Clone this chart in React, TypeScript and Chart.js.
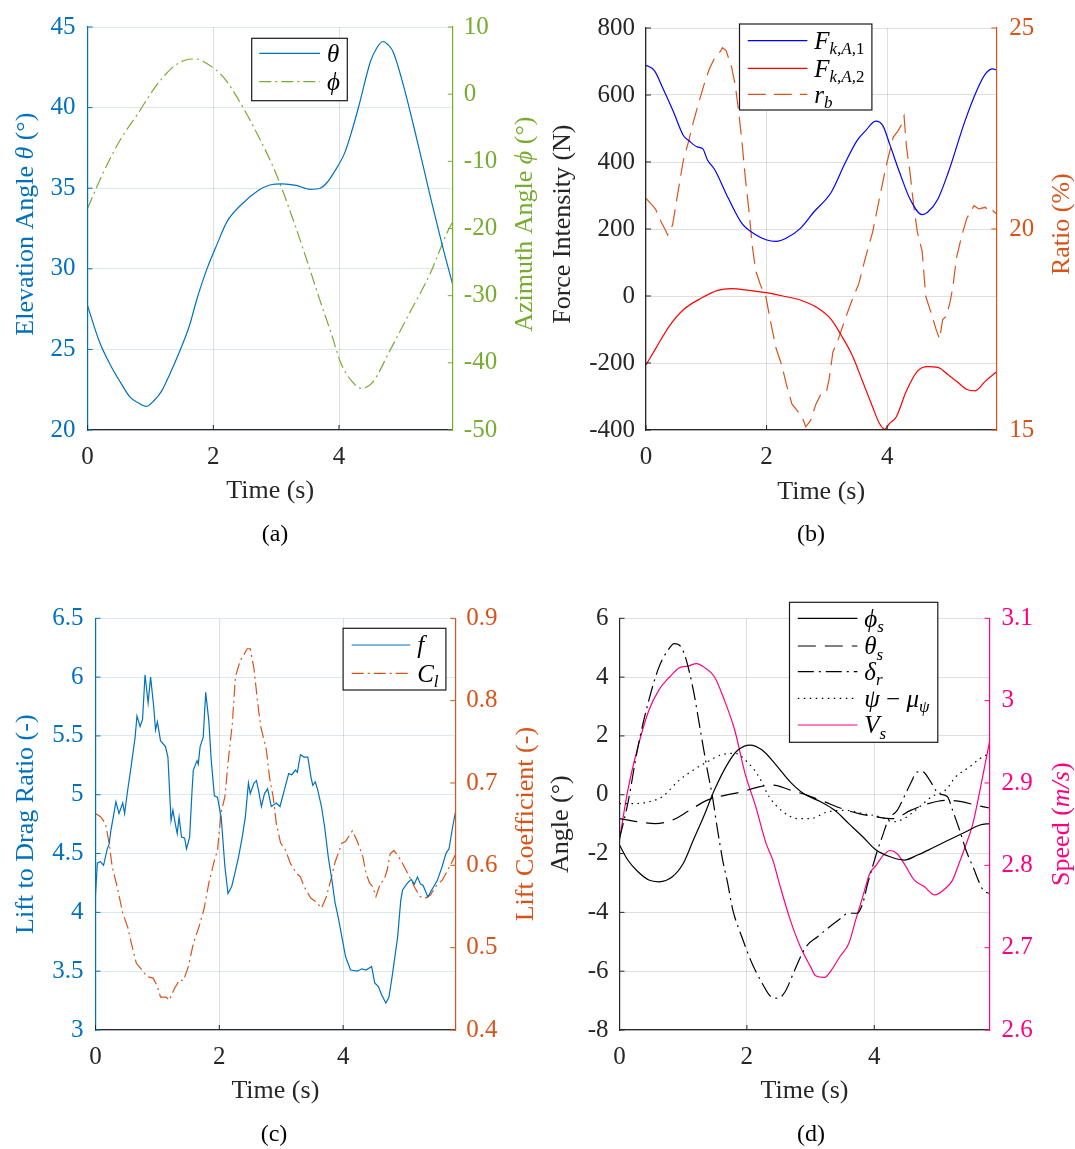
import React, { useEffect, useRef } from 'react';
import { Chart, registerables } from 'chart.js';
Chart.register(...registerables);

const SERIF = '"Liberation Serif", "DejaVu Serif", serif';
const AX = '#262626';
const BLUE = '#0072BD';
const GREEN = '#77AC30';
const ORANGE = '#D95319';
const PINK = '#FF0080';
const GRID_GRAY = 'rgba(38,38,38,0.15)';
const GRID_BLUE = 'rgba(0,114,189,0.15)';

// ---------- shared axis values ----------
const xTicks = [0, 2, 4];
const tMax = 5.81;

// ---------- (a) ----------
const aThetaT = [0, 0.19, 0.36, 0.5, 0.68, 0.8, 0.93, 1.05, 1.18, 1.3, 1.45, 1.62, 1.73, 1.89, 2.06, 2.22, 2.44, 2.72, 2.9, 3.1, 3.32, 3.54, 3.7, 3.82, 3.92, 4.09, 4.2, 4.31, 4.5, 4.6, 4.7, 4.78, 4.86, 5.02, 5.24, 5.46, 5.64, 5.81];
const aTheta = [27.7, 25.46, 24.05, 23.1, 22.02, 21.7, 21.46, 21.8, 22.43, 23.4, 24.75, 26.47, 28.0, 29.9, 31.53, 32.94, 33.96, 34.87, 35.2, 35.27, 35.17, 34.93, 35.0, 35.4, 35.98, 37.19, 38.5, 40.02, 42.86, 43.7, 44.1, 43.9, 43.46, 41.44, 38.0, 34.36, 31.5, 29.0];
const aPhiT = [0, 0.25, 0.52, 0.8, 1.07, 1.34, 1.56, 1.73, 1.89, 2.17, 2.44, 2.72, 2.99, 3.26, 3.54, 3.7, 3.87, 4.03, 4.2, 4.35, 4.53, 4.8, 5.07, 5.35, 5.46, 5.73, 5.81];
const aPhi = [-17.0, -11.66, -6.79, -2.9, 0.97, 3.88, 5.09, 5.24, 4.61, 2.42, -1.46, -6.31, -11.66, -18.44, -26.2, -30.8, -35.44, -40.05, -42.7, -43.8, -42.96, -38.35, -33.5, -28.6, -26.5, -20.4, -19.0];
const aLeftTicks = [20, 25, 30, 35, 40, 45];
const aRightTicks = [-50, -40, -30, -20, -10, 0, 10];

// ---------- (b) ----------
const bF1T = [0, 0.14, 0.28, 0.45, 0.62, 0.71, 0.85, 0.94, 1.02, 1.14, 1.37, 1.59, 1.82, 1.99, 2.16, 2.33, 2.56, 2.78, 3.07, 3.3, 3.5, 3.64, 3.81, 3.93, 4.04, 4.21, 4.38, 4.58, 4.67, 4.84, 5.01, 5.29, 5.49, 5.63, 5.75, 5.81];
const bF1 = [689, 673, 620, 552, 479, 464, 445, 440, 406, 377, 290, 217, 183, 168, 163, 173, 202, 250, 309, 396, 464, 493, 522, 508, 454, 367, 289, 243, 250, 289, 367, 522, 615, 663, 678, 675];
const bF2T = [0, 0.16, 0.39, 0.62, 0.91, 1.19, 1.42, 1.71, 1.99, 2.27, 2.56, 2.85, 3.07, 3.24, 3.42, 3.59, 3.76, 3.87, 3.96, 4.04, 4.15, 4.32, 4.5, 4.67, 4.84, 5.01, 5.18, 5.32, 5.46, 5.63, 5.81];
const bF2 = [-206, -157, -89, -41, -7, 17, 22, 17, 10, 0, -12, -36, -70, -118, -177, -254, -332, -380, -398, -380, -361, -283, -225, -211, -213, -235, -259, -279, -283, -254, -227];
const bRbT = [0, 0.11, 0.16, 0.25, 0.32, 0.36, 0.44, 0.53, 0.62, 0.71, 0.79, 0.88, 0.96, 1.05, 1.14, 1.22, 1.27, 1.33, 1.42, 1.48, 1.53, 1.59, 1.65, 1.71, 1.76, 1.82, 1.9, 1.99, 2.08, 2.16, 2.25, 2.33, 2.42, 2.53, 2.59, 2.65, 2.73, 2.82, 2.9, 2.99, 3.04, 3.1, 3.19, 3.3, 3.42, 3.53, 3.64, 3.76, 3.87, 3.98, 4.1, 4.18, 4.24, 4.28, 4.32, 4.38, 4.44, 4.5, 4.58, 4.64, 4.73, 4.81, 4.87, 4.92, 4.98, 5.04, 5.09, 5.15, 5.24, 5.32, 5.38, 5.44, 5.52, 5.63, 5.69, 5.75, 5.81];
const bRb = [20.76, 20.58, 20.49, 20.18, 19.98, 19.85, 20.1, 20.91, 21.72, 22.2, 22.69, 23.17, 23.58, 23.98, 24.26, 24.39, 24.51, 24.43, 24.02, 23.58, 23.01, 22.2, 21.23, 20.42, 19.61, 18.96, 18.6, 18.3, 17.59, 17.02, 16.62, 16.13, 15.65, 15.44, 15.32, 15.08, 15.24, 15.65, 15.89, 15.93, 16.29, 16.94, 17.26, 17.75, 18.24, 18.64, 19.29, 19.93, 20.75, 21.55, 22.28, 22.44, 22.6, 22.81, 22.04, 21.39, 20.58, 19.93, 19.45, 18.32, 17.91, 17.51, 17.26, 17.75, 17.83, 18.16, 18.56, 19.29, 19.85, 20.26, 20.42, 20.58, 20.5, 20.54, 20.42, 20.46, 20.38];
const bLeftTicks = [-400, -200, 0, 200, 400, 600, 800];
const bRightTicks = [15, 20, 25];

// ---------- (c) ----------
const cFT = [0, 0.03, 0.08, 0.13, 0.19, 0.22, 0.25, 0.33, 0.38, 0.44, 0.47, 0.52, 0.57, 0.64, 0.67, 0.72, 0.76, 0.8, 0.85, 0.89, 0.94, 0.97, 1.0, 1.05, 1.13, 1.17, 1.22, 1.25, 1.29, 1.32, 1.35, 1.39, 1.44, 1.47, 1.52, 1.56, 1.58, 1.64, 1.66, 1.69, 1.74, 1.78, 1.83, 1.87, 1.92, 1.97, 2.03, 2.09, 2.14, 2.2, 2.25, 2.31, 2.37, 2.42, 2.47, 2.5, 2.56, 2.6, 2.64, 2.68, 2.73, 2.78, 2.84, 2.92, 2.98, 3.05, 3.12, 3.17, 3.23, 3.26, 3.31, 3.37, 3.43, 3.48, 3.51, 3.55, 3.59, 3.65, 3.7, 3.76, 3.82, 3.87, 3.92, 3.98, 4.04, 4.12, 4.23, 4.3, 4.37, 4.46, 4.51, 4.57, 4.62, 4.69, 4.74, 4.79, 4.88, 4.93, 4.96, 5.04, 5.1, 5.15, 5.2, 5.25, 5.29, 5.37, 5.43, 5.52, 5.6, 5.66, 5.71, 5.77, 5.82];
const cF = [4.15, 4.42, 4.43, 4.4, 4.54, 4.58, 4.7, 4.94, 4.84, 4.93, 4.84, 5.04, 5.22, 5.49, 5.67, 5.58, 5.64, 6.02, 5.78, 6.0, 5.75, 5.55, 5.62, 5.46, 5.41, 5.32, 4.78, 4.87, 4.75, 4.67, 4.81, 4.64, 4.63, 4.54, 4.64, 5.04, 5.21, 5.29, 5.26, 5.41, 5.49, 5.87, 5.63, 5.29, 4.99, 4.98, 4.81, 4.39, 4.16, 4.22, 4.33, 4.47, 4.64, 4.81, 5.1, 5.01, 5.1, 5.12, 5.02, 4.9, 5.01, 5.05, 4.9, 4.93, 4.9, 5.04, 5.18, 5.17, 5.21, 5.19, 5.34, 5.32, 5.32, 5.15, 5.08, 5.11, 5.04, 4.9, 4.73, 4.47, 4.27, 4.08, 3.96, 3.79, 3.62, 3.51, 3.5, 3.52, 3.51, 3.54, 3.4, 3.37, 3.3, 3.23, 3.28, 3.45, 3.79, 4.1, 4.19, 4.25, 4.28, 4.24, 4.3, 4.24, 4.23, 4.13, 4.19, 4.27, 4.39, 4.5, 4.54, 4.73, 4.87];
const cClT = [0, 0.08, 0.16, 0.22, 0.27, 0.35, 0.44, 0.52, 0.58, 0.66, 0.75, 0.83, 0.93, 1.0, 1.05, 1.14, 1.19, 1.28, 1.36, 1.42, 1.5, 1.58, 1.67, 1.75, 1.83, 1.92, 1.97, 2.03, 2.09, 2.14, 2.21, 2.26, 2.34, 2.39, 2.45, 2.5, 2.56, 2.62, 2.67, 2.76, 2.81, 2.87, 2.92, 2.99, 3.06, 3.15, 3.25, 3.31, 3.37, 3.48, 3.56, 3.65, 3.73, 3.8, 3.87, 3.9, 3.98, 4.04, 4.09, 4.15, 4.23, 4.32, 4.37, 4.43, 4.48, 4.53, 4.6, 4.66, 4.71, 4.76, 4.82, 4.9, 4.99, 5.1, 5.15, 5.24, 5.32, 5.41, 5.49, 5.6, 5.69, 5.77, 5.82];
const cCl = [0.663, 0.659, 0.651, 0.627, 0.598, 0.574, 0.542, 0.525, 0.505, 0.481, 0.473, 0.465, 0.463, 0.453, 0.44, 0.44, 0.436, 0.451, 0.461, 0.46, 0.477, 0.505, 0.525, 0.546, 0.578, 0.606, 0.618, 0.665, 0.683, 0.724, 0.772, 0.829, 0.849, 0.855, 0.863, 0.863, 0.839, 0.797, 0.768, 0.74, 0.707, 0.683, 0.651, 0.627, 0.62, 0.602, 0.59, 0.586, 0.574, 0.56, 0.556, 0.548, 0.562, 0.582, 0.604, 0.61, 0.627, 0.629, 0.635, 0.642, 0.629, 0.61, 0.59, 0.578, 0.574, 0.562, 0.578, 0.582, 0.594, 0.614, 0.618, 0.61, 0.598, 0.582, 0.574, 0.562, 0.56, 0.564, 0.574, 0.582, 0.594, 0.606, 0.614];
const cLeftTicks = [3, 3.5, 4, 4.5, 5, 5.5, 6, 6.5];
const cRightTicks = [0.4, 0.5, 0.6, 0.7, 0.8, 0.9];

// ---------- (d) ----------
const dPhiT = [0, 0.13, 0.29, 0.46, 0.62, 0.83, 1.0, 1.16, 1.32, 1.49, 1.7, 1.86, 2.05, 2.24, 2.46, 2.68, 2.89, 3.16, 3.38, 3.6, 3.82, 4.03, 4.25, 4.47, 4.68, 4.9, 5.17, 5.44, 5.66, 5.81];
const dPhi = [-1.71, -2.22, -2.62, -2.9, -2.96, -2.79, -2.34, -1.54, -0.75, 0.16, 1.06, 1.52, 1.69, 1.52, 1.01, 0.44, 0.04, -0.24, -0.53, -0.98, -1.43, -1.88, -2.11, -2.22, -2.05, -1.83, -1.54, -1.26, -1.03, -0.98];
const dThetaT = [0, 0.29, 0.56, 0.83, 1.1, 1.37, 1.65, 1.92, 2.19, 2.41, 2.68, 2.95, 3.22, 3.49, 3.76, 4.03, 4.3, 4.57, 4.85, 5.12, 5.39, 5.6, 5.81];
const dTheta = [-0.81, -0.92, -0.98, -0.86, -0.53, -0.19, -0.02, 0.1, 0.27, 0.33, 0.16, -0.02, -0.24, -0.47, -0.64, -0.75, -0.81, -0.53, -0.3, -0.19, -0.24, -0.36, -0.45];
const dDeltaT = [0, 0.13, 0.29, 0.46, 0.62, 0.76, 0.86, 0.97, 1.05, 1.16, 1.27, 1.38, 1.46, 1.54, 1.62, 1.7, 1.78, 1.92, 2.08, 2.24, 2.38, 2.49, 2.6, 2.73, 2.87, 2.95, 3.11, 3.27, 3.44, 3.6, 3.73, 3.82, 3.9, 3.98, 4.05, 4.13, 4.22, 4.36, 4.47, 4.57, 4.68, 4.76, 4.87, 5.01, 5.15, 5.23, 5.34, 5.44, 5.55, 5.71, 5.81];
const dDelta = [-1.49, -0.3, 1.63, 3.21, 4.34, 4.91, 5.14, 5.02, 4.57, 3.55, 2.19, 0.83, -0.07, -1.2, -2.22, -3.02, -3.92, -4.83, -5.73, -6.41, -6.87, -6.92, -6.7, -6.07, -5.39, -5.11, -4.83, -4.54, -4.26, -4.03, -4.03, -3.69, -3.0, -2.4, -1.9, -1.4, -0.86, -0.53, -0.07, 0.38, 0.78, 0.78, 0.5, 0.04, -0.07, -0.53, -1.2, -1.88, -2.45, -3.24, -3.36];
const dPsiT = [0, 0.24, 0.46, 0.67, 0.94, 1.16, 1.38, 1.59, 1.81, 2.03, 2.19, 2.35, 2.57, 2.79, 3.0, 3.27, 3.54, 3.82, 4.09, 4.3, 4.47, 4.68, 4.9, 5.12, 5.28, 5.5, 5.66, 5.8];
const dPsi = [-0.3, -0.3, -0.24, -0.07, 0.5, 0.84, 1.12, 1.35, 1.41, 1.06, 0.61, -0.07, -0.58, -0.81, -0.81, -0.58, -0.53, -0.64, -0.75, -0.92, -0.81, -0.47, -0.07, 0.16, 0.61, 0.95, 1.23, 1.4];
const dVsT = [0, 0.13, 0.29, 0.46, 0.62, 0.79, 0.94, 1.08, 1.21, 1.32, 1.49, 1.65, 1.81, 1.97, 2.14, 2.3, 2.41, 2.51, 2.68, 2.84, 3.0, 3.08, 3.22, 3.33, 3.46, 3.6, 3.71, 3.82, 3.93, 4.03, 4.14, 4.25, 4.36, 4.47, 4.63, 4.79, 4.95, 5.09, 5.23, 5.33, 5.44, 5.55, 5.66, 5.81];
const dVs = [2.831, 2.891, 2.944, 2.988, 3.013, 3.029, 3.04, 3.042, 3.045, 3.041, 3.029, 3.0, 2.964, 2.912, 2.871, 2.827, 2.806, 2.778, 2.734, 2.701, 2.677, 2.666, 2.664, 2.673, 2.689, 2.705, 2.734, 2.762, 2.79, 2.8, 2.812, 2.818, 2.814, 2.802, 2.782, 2.774, 2.764, 2.77, 2.782, 2.802, 2.825, 2.851, 2.891, 2.95];
const dLeftTicks = [-8, -6, -4, -2, 0, 2, 4, 6];
const dRightTicks = [2.6, 2.7, 2.8, 2.9, 3.0, 3.1];

// ---------- types ----------
type Seg = { t: string; i?: boolean; s?: boolean };
type LineSpec = { name: Seg[]; t: number[]; v: number[]; color: string; dash: number[]; axis: 'yL' | 'yR'; smooth: boolean };
type AxisSpec = { min: number; max: number; ticks: number[]; color: string; grid: string | null; pad: number; title: Seg[]; titleX: number };
type PanelSpec = {
  key: string; ox: number; oy: number; w: number; h: number;
  L: number; R: number; T: number; B: number;
  yL: AxisSpec; yR: AxisSpec; lines: LineSpec[];
  legend: { x0: number; y0: number; x1: number; y1: number; lx0: number; lx1: number; tx: number; ys: number[] };
  caption: string; capX: number; capY: number; xTitleY: number;
};

const DASHDOT = [12, 4, 2, 4];
const TICK_SIZE = 25;
const TITLE_SIZE = 26;
const LEGEND_SIZE = 25;

const panels: PanelSpec[] = [
  {
    key: 'a', ox: 0, oy: 0, w: 545, h: 575, L: 87.6, R: 452.8, T: 18.3, B: 430,
    yL: { min: 20, max: 45, ticks: aLeftTicks, color: BLUE, grid: GRID_BLUE, pad: 12, title: [{ t: 'Elevation Angle ' }, { t: 'θ', i: true }, { t: ' (°)' }], titleX: 24 },
    yR: { min: -50, max: 10, ticks: aRightTicks, color: GREEN, grid: null, pad: 11, title: [{ t: 'Azimuth Angle ' }, { t: 'ϕ', i: true }, { t: ' (°)' }], titleX: 523 },
    lines: [
      { name: [{ t: 'θ', i: true }], t: aThetaT, v: aTheta, color: BLUE, dash: [], axis: 'yL', smooth: true },
      { name: [{ t: 'ϕ', i: true }], t: aPhiT, v: aPhi, color: GREEN, dash: DASHDOT, axis: 'yR', smooth: true },
    ],
    legend: { x0: 251.7, y0: 38.3, x1: 347.3, y1: 100.7, lx0: 259.3, lx1: 320, tx: 327, ys: [53.3, 81.7] },
    caption: '(a)', capX: 275, capY: 533, xTitleY: 489,
  },
  {
    key: 'b', ox: 545, oy: 0, w: 530, h: 575, L: 646, R: 996.3, T: 18.3, B: 430,
    yL: { min: -400, max: 800, ticks: bLeftTicks, color: AX, grid: GRID_GRAY, pad: 11, title: [{ t: 'Force Intensity (N)' }], titleX: 561 },
    yR: { min: 15, max: 25, ticks: bRightTicks, color: ORANGE, grid: null, pad: 13, title: [{ t: 'Ratio (%)' }], titleX: 1060 },
    lines: [
      { name: [{ t: 'F', i: true }, { t: 'k,A,', i: true, s: true }, { t: '1', s: true }], t: bF1T, v: bF1, color: '#0000FF', dash: [], axis: 'yL', smooth: true },
      { name: [{ t: 'F', i: true }, { t: 'k,A,', i: true, s: true }, { t: '2', s: true }], t: bF2T, v: bF2, color: '#FF0000', dash: [], axis: 'yL', smooth: true },
      { name: [{ t: 'r', i: true }, { t: 'b', i: true, s: true }], t: bRbT, v: bRb, color: ORANGE, dash: [18, 8], axis: 'yR', smooth: false },
    ],
    legend: { x0: 739.5, y0: 24, x1: 871.9, y1: 110, lx0: 747.8, lx1: 807.4, tx: 814.3, ys: [40.7, 68.3, 94.3] },
    caption: '(b)', capX: 811, capY: 533, xTitleY: 490,
  },
  {
    key: 'c', ox: 0, oy: 575, w: 545, h: 574, L: 95.5, R: 455.2, T: 618.3, B: 1030,
    yL: { min: 3, max: 6.5, ticks: cLeftTicks, color: BLUE, grid: GRID_BLUE, pad: 12, title: [{ t: 'Lift to Drag Ratio (-)' }], titleX: 24 },
    yR: { min: 0.4, max: 0.9, ticks: cRightTicks, color: ORANGE, grid: null, pad: 11, title: [{ t: 'Lift Coefficient (-)' }], titleX: 524 },
    lines: [
      { name: [{ t: 'f', i: true }], t: cFT, v: cF, color: BLUE, dash: [], axis: 'yL', smooth: false },
      { name: [{ t: 'C', i: true }, { t: 'l', i: true, s: true }], t: cClT, v: cCl, color: ORANGE, dash: DASHDOT, axis: 'yR', smooth: false },
    ],
    legend: { x0: 343.1, y0: 628.3, x1: 445.9, y1: 690, lx0: 351.7, lx1: 410.3, tx: 417.2, ys: [645, 673.3] },
    caption: '(c)', capX: 274, capY: 1133, xTitleY: 1089,
  },
  {
    key: 'd', ox: 545, oy: 575, w: 530, h: 574, L: 619.5, R: 989.5, T: 618.3, B: 1030,
    yL: { min: -8, max: 6, ticks: dLeftTicks, color: AX, grid: GRID_GRAY, pad: 11, title: [{ t: 'Angle (°)' }], titleX: 559 },
    yR: { min: 2.6, max: 3.1, ticks: dRightTicks, color: PINK, grid: null, pad: 12, title: [{ t: 'Speed (' }, { t: 'm/s', i: true }, { t: ')' }], titleX: 1060 },
    lines: [
      { name: [{ t: 'ϕ', i: true }, { t: 's', i: true, s: true }], t: dPhiT, v: dPhi, color: '#000000', dash: [], axis: 'yL', smooth: true },
      { name: [{ t: 'θ', i: true }, { t: 's', i: true, s: true }], t: dThetaT, v: dTheta, color: '#000000', dash: [18, 9], axis: 'yL', smooth: true },
      { name: [{ t: 'δ', i: true }, { t: 'r', i: true, s: true }], t: dDeltaT, v: dDelta, color: '#000000', dash: [16, 5, 2, 5], axis: 'yL', smooth: true },
      { name: [{ t: 'ψ', i: true }, { t: ' − ' }, { t: 'μ', i: true }, { t: 'ψ', i: true, s: true }], t: dPsiT, v: dPsi, color: '#000000', dash: [1.5, 4.5], axis: 'yL', smooth: true },
      { name: [{ t: 'V', i: true }, { t: 's', i: true, s: true }], t: dVsT, v: dVs, color: PINK, dash: [], axis: 'yR', smooth: true },
    ],
    legend: { x0: 789.5, y0: 602.3, x1: 937.8, y1: 742.3, lx0: 797.8, lx1: 857.4, tx: 864.3, ys: [618.3, 646, 671.7, 698.3, 725] },
    caption: '(d)', capX: 811, capY: 1133, xTitleY: 1089,
  },
];

// ---------- text helpers ----------
function segFont(g: Seg, size: number) {
  const sz = g.s ? Math.round(size * 0.68) : size;
  return `${g.i ? 'italic ' : ''}${sz}px ${SERIF}`;
}
function richWidth(ctx: CanvasRenderingContext2D, segs: Seg[], size: number) {
  let w = 0;
  for (const g of segs) { ctx.font = segFont(g, size); w += ctx.measureText(g.t).width; }
  return w;
}
function drawRich(ctx: CanvasRenderingContext2D, segs: Seg[], x: number, yMid: number, size: number, color: string, align: 'left' | 'center') {
  ctx.save();
  ctx.fillStyle = color;
  ctx.textBaseline = 'alphabetic';
  ctx.textAlign = 'left';
  const w = richWidth(ctx, segs, size);
  let cx = align === 'center' ? x - w / 2 : x;
  const base = yMid + size * 0.33;
  for (const g of segs) {
    ctx.font = segFont(g, size);
    ctx.fillText(g.t, cx, base + (g.s ? size * 0.22 : 0));
    cx += ctx.measureText(g.t).width;
  }
  ctx.restore();
}

const fmt = (v: any) => String(Math.round(Number(v) * 1000) / 1000);

const WL = 62, WR = 62, HX = 42;

function makeChart(canvas: HTMLCanvasElement, p: PanelSpec) {
  const datasets = p.lines.map((l) => ({
    type: 'line' as const,
    label: l.name.map((g) => g.t).join(''),
    data: l.t.map((x, i) => ({ x, y: l.v[i] })),
    borderColor: l.color,
    borderWidth: 1.2,
    borderDash: l.dash,
    pointRadius: 0,
    fill: false,
    yAxisID: l.axis,
    tension: 0,
    cubicInterpolationMode: (l.smooth ? 'monotone' : 'default') as any,
  }));

  const yScale = (a: AxisSpec, position: 'left' | 'right', width: number) => ({
    type: 'linear' as const,
    position,
    min: a.min,
    max: a.max,
    afterBuildTicks: (s: any) => { s.ticks = a.ticks.map((v) => ({ value: v })); },
    afterFit: (s: any) => { s.width = width; },
    grid: { display: a.grid !== null, color: a.grid || 'transparent', lineWidth: 1, drawTicks: false },
    border: { display: true, color: a.color, width: 1.2, z: 1 },
    ticks: { color: a.color, font: { family: SERIF, size: TICK_SIZE }, padding: a.pad, callback: fmt },
  });

  const decor = {
    id: 'decor_' + p.key,
    afterDraw(chart: any) {
      const ctx: CanvasRenderingContext2D = chart.ctx;
      const ox = p.ox, oy = p.oy;
      const xs = chart.scales.x, yl = chart.scales.yL, yr = chart.scales.yR;
      const L = p.L - ox, R = p.R - ox, B = p.B - oy;
      // inward tick marks
      ctx.save();
      ctx.lineWidth = 1;
      ctx.setLineDash([]);
      ctx.strokeStyle = AX;
      for (const v of xTicks) {
        const px = xs.getPixelForValue(v);
        ctx.beginPath(); ctx.moveTo(px, B); ctx.lineTo(px, B - 5); ctx.stroke();
      }
      ctx.strokeStyle = p.yL.color;
      for (const v of p.yL.ticks) {
        const py = yl.getPixelForValue(v);
        ctx.beginPath(); ctx.moveTo(L, py); ctx.lineTo(L + 5, py); ctx.stroke();
      }
      ctx.strokeStyle = p.yR.color;
      for (const v of p.yR.ticks) {
        const py = yr.getPixelForValue(v);
        ctx.beginPath(); ctx.moveTo(R, py); ctx.lineTo(R - 5, py); ctx.stroke();
      }
      ctx.restore();

      // axis titles
      const midY = (p.T + p.B) / 2 - oy;
      drawRich(ctx, [{ t: 'Time (s)' }], (p.L + p.R) / 2 - ox, p.xTitleY - oy, TITLE_SIZE, AX, 'center');
      for (const a of [p.yL, p.yR]) {
        ctx.save();
        ctx.translate(a.titleX - ox, midY);
        ctx.rotate(-Math.PI / 2);
        drawRich(ctx, a.title, 0, 0, TITLE_SIZE, a.color, 'center');
        ctx.restore();
      }
      // caption
      drawRich(ctx, [{ t: p.caption }], p.capX - ox, p.capY - oy, 24, '#000000', 'center');

      // legend
      const lg = p.legend;
      ctx.save();
      ctx.fillStyle = '#FFFFFF';
      ctx.fillRect(lg.x0 - ox, lg.y0 - oy, lg.x1 - lg.x0, lg.y1 - lg.y0);
      ctx.strokeStyle = '#1a1a1a';
      ctx.lineWidth = 1.2;
      ctx.strokeRect(lg.x0 - ox, lg.y0 - oy, lg.x1 - lg.x0, lg.y1 - lg.y0);
      p.lines.forEach((l, i) => {
        const y = lg.ys[i] - oy;
        ctx.strokeStyle = l.color;
        ctx.lineWidth = 1.2;
        ctx.setLineDash(l.dash);
        ctx.beginPath(); ctx.moveTo(lg.lx0 - ox, y); ctx.lineTo(lg.lx1 - ox, y); ctx.stroke();
        ctx.setLineDash([]);
        drawRich(ctx, l.name, lg.tx - ox, y, LEGEND_SIZE, '#000000', 'left');
      });
      ctx.restore();
    },
  };

  return new Chart(canvas, {
    type: 'line',
    data: { datasets } as any,
    options: {
      animation: false,
      responsive: false,
      maintainAspectRatio: false,
      devicePixelRatio: 1,
      layout: {
        padding: {
          left: p.L - p.ox - WL,
          right: p.ox + p.w - p.R - WR,
          top: p.T - p.oy,
          bottom: p.oy + p.h - p.B - HX,
        },
      },
      plugins: { legend: { display: false }, tooltip: { enabled: false }, title: { display: false } },
      scales: {
        x: {
          type: 'linear',
          position: 'bottom',
          min: 0,
          max: tMax,
          afterBuildTicks: (s: any) => { s.ticks = xTicks.map((v) => ({ value: v })); },
          afterFit: (s: any) => { s.height = HX; },
          grid: { color: GRID_GRAY, lineWidth: 1, drawTicks: false },
          border: { display: true, color: AX, width: 1.2, z: 1 },
          ticks: { color: AX, font: { family: SERIF, size: TICK_SIZE }, padding: 12, maxRotation: 0, autoSkip: false, callback: fmt },
        },
        yL: yScale(p.yL, 'left', WL),
        yR: yScale(p.yR, 'right', WR),
      } as any,
    },
    plugins: [decor],
  } as any);
}

function Panel({ p }: { p: PanelSpec }) {
  const ref = useRef<HTMLCanvasElement>(null);
  useEffect(() => {
    if (!ref.current) return;
    const chart = makeChart(ref.current, p);
    return () => chart.destroy();
  }, [p]);
  return (
    <canvas
      ref={ref}
      width={p.w}
      height={p.h}
      style={{ position: 'absolute', left: p.ox, top: p.oy, width: p.w, height: p.h }}
    />
  );
}

export default function App() {
  return (
    <div style={{ position: 'absolute', left: 0, top: 0, width: 1075, height: 1149, background: '#FFFFFF', overflow: 'hidden' }}>
      {panels.map((p) => <Panel key={p.key} p={p} />)}
    </div>
  );
}
